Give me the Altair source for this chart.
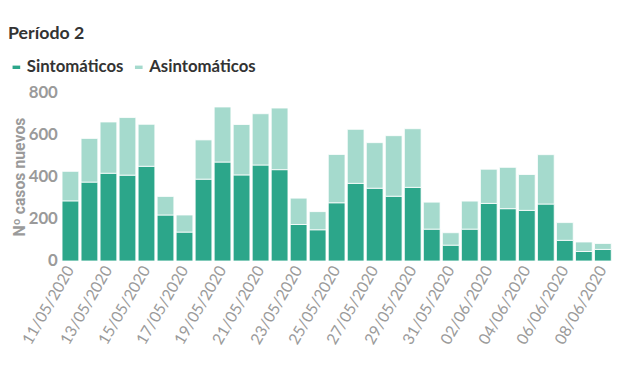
import altair as alt
import pandas as pd

dates = ["11/05/2020", "12/05/2020", "13/05/2020", "14/05/2020", "15/05/2020",
         "16/05/2020", "17/05/2020", "18/05/2020", "19/05/2020", "20/05/2020",
         "21/05/2020", "22/05/2020", "23/05/2020", "24/05/2020", "25/05/2020",
         "26/05/2020", "27/05/2020", "28/05/2020", "29/05/2020", "30/05/2020",
         "31/05/2020", "01/06/2020", "02/06/2020", "03/06/2020", "04/06/2020",
         "05/06/2020", "06/06/2020", "07/06/2020", "08/06/2020"]
sintomaticos = [285, 374, 416, 407, 449, 218, 137, 388, 469, 408, 455, 433, 173, 148,
                276, 368, 345, 307, 349, 151, 75, 151, 273, 248, 240, 270, 98, 45, 55]
totales = [425, 581, 659, 680, 648, 306, 218, 574, 730, 647, 698, 725, 298, 234,
           505, 624, 561, 594, 627, 279, 134, 284, 435, 444, 410, 504, 182, 90, 83]
asintomaticos = [t - s for t, s in zip(totales, sintomaticos)]
series = ["Sintomáticos", "Asintomáticos"]
colors = ["#2ca68a", "#a5dacd"]
tick_dates = dates[::2]

rows = []
for d, s, a in zip(dates, sintomaticos, asintomaticos):
    rows.append({"fecha": d, "tipo": series[0], "casos": s, "ord": 0})
    rows.append({"fecha": d, "tipo": series[1], "casos": a, "ord": 1})
df = pd.DataFrame(rows)

FONT = "Lato"

chart = alt.Chart(df).mark_bar(stroke="white", strokeWidth=0.8).encode(
    x=alt.X("fecha:N", sort=dates, title=None,
            scale=alt.Scale(paddingInner=0.12, paddingOuter=0.04),
            axis=alt.Axis(values=tick_dates, labelAngle=-60, labelAlign="right",
                          labelBaseline="middle", labelFontSize=16, labelColor="#9a9a9a",
                          labelFont=FONT, ticks=False, domain=False, labelPadding=6)),
    y=alt.Y("casos:Q", stack="zero", title="Nº casos nuevos",
            scale=alt.Scale(domain=[0, 800]),
            axis=alt.Axis(values=[0, 200, 400, 600, 800], grid=False, domain=False,
                          ticks=False, labelFontSize=17, labelFontWeight="bold",
                          labelColor="#9a9a9a", labelFont=FONT, labelPadding=4,
                          titleFontSize=16, titleFontWeight="bold", titleColor="#9a9a9a",
                          titleFont="Roboto", titlePadding=1)),
    color=alt.Color("tipo:N", scale=alt.Scale(domain=series, range=colors),
                    legend=alt.Legend(title=None, orient="none", legendX=-54, legendY=-34,
                                      direction="horizontal",
                                      symbolType="M-1,-0.45H1V0.45H-1Z",
                                      symbolStrokeWidth=0, symbolSize=60,
                                      labelFontSize=17, labelFontWeight="bold",
                                      labelColor="#333333", labelFont=FONT,
                                      columnPadding=6, labelOffset=2)),
    order=alt.Order("ord:Q", sort="ascending"),
).properties(
    width=558,
    height=171,
    title=alt.TitleParams("Período 2", anchor="start", frame="group", dx=-54,
                          offset=16, fontSize=18, fontWeight="bold", color="#333333",
                          font=FONT),
    autosize=alt.AutoSizeParams(type="none"),
    padding={"left": 54, "top": 83, "right": 0, "bottom": 100},
).configure_view(stroke=None)

chart.save("out.html", embed_options={"renderer": "svg", "actions": False})
